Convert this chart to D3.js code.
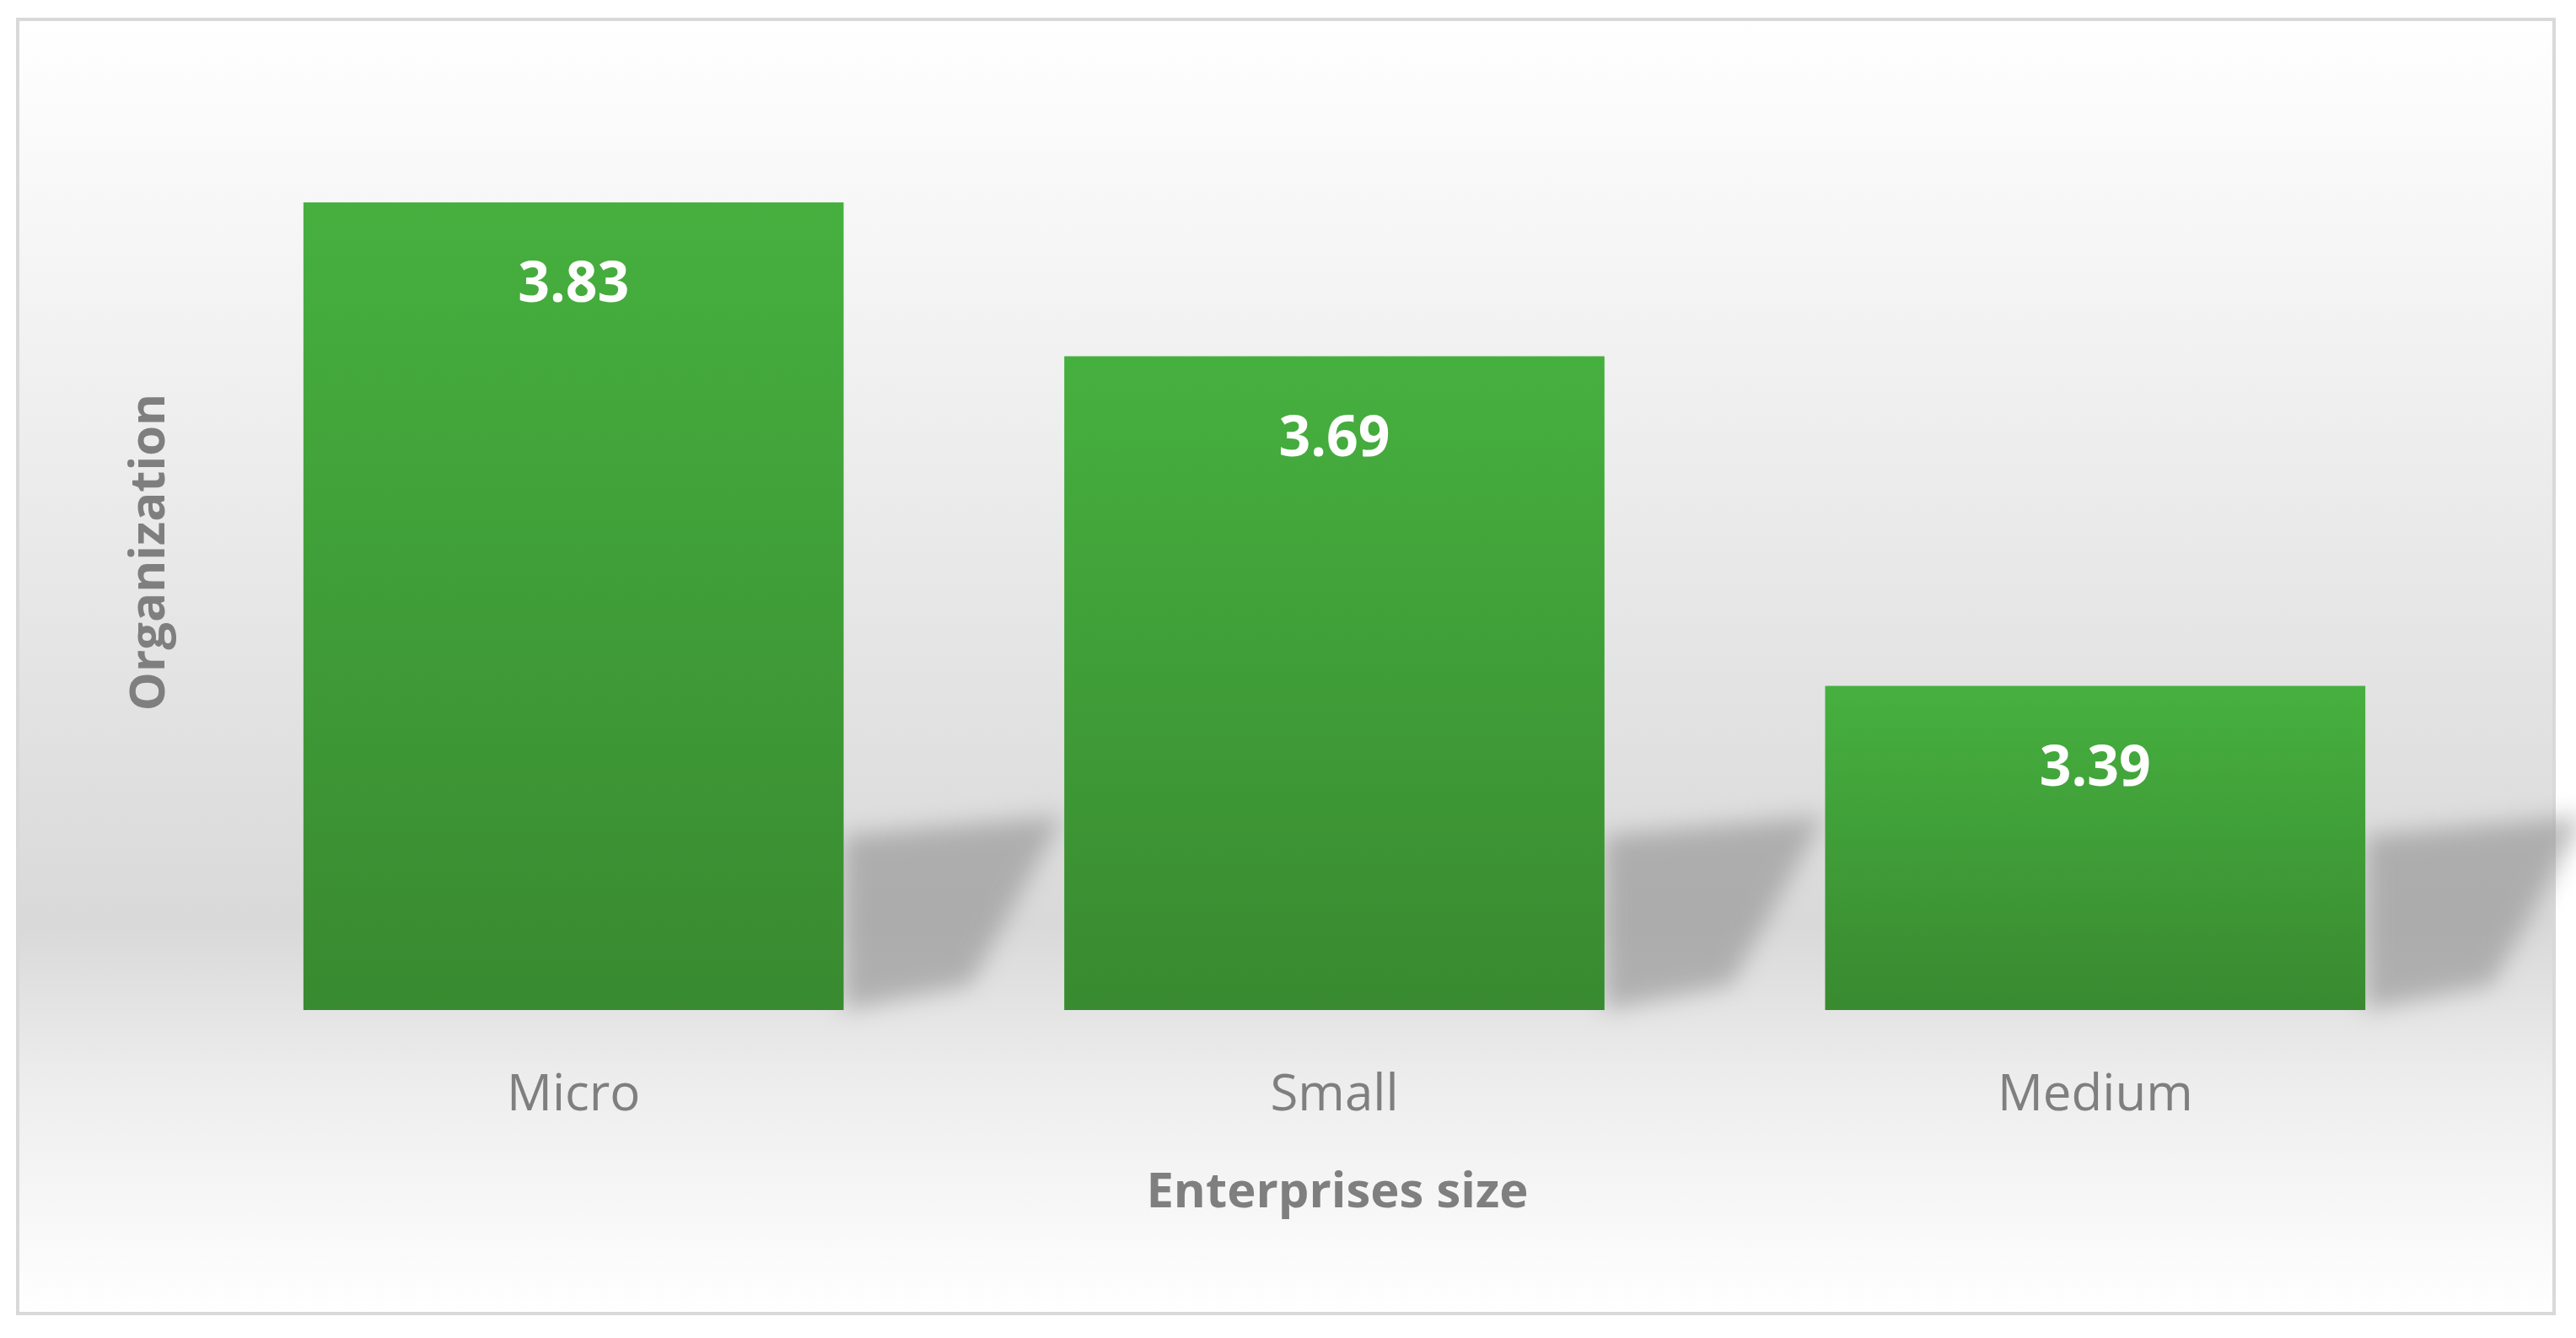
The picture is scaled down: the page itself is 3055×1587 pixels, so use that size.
<!DOCTYPE html>
<html><head><meta charset="utf-8">
<script src="https://cdn.jsdelivr.net/npm/d3@7"></script>
<style>body{margin:0;background:#fff}</style>
</head><body>
<script>
var width = 3055, height = 1587;
var categories = ["Micro", "Small", "Medium"];
var values = [3.83, 3.69, 3.39];
var font = "'Open Sans', 'Liberation Sans', sans-serif";

var svg = d3.select("body").append("svg").attr("width", width).attr("height", height);
var defs = svg.append("defs");

var bg = defs.append("linearGradient").attr("id", "bg").attr("x1", 0).attr("x2", 0).attr("y1", 0).attr("y2", 1);
bg.append("stop").attr("offset", "0%").attr("stop-color", "#ffffff");
bg.append("stop").attr("offset", "15%").attr("stop-color", "#f7f7f7");
bg.append("stop").attr("offset", "70%").attr("stop-color", "#d9d9d9");
bg.append("stop").attr("offset", "82%").attr("stop-color", "#ededed");
bg.append("stop").attr("offset", "100%").attr("stop-color", "#ffffff");

var bar = defs.append("linearGradient").attr("id", "bar").attr("x1", 0).attr("x2", 0).attr("y1", 0).attr("y2", 1);
bar.append("stop").attr("offset", "0%").attr("stop-color", "#46b03f");
bar.append("stop").attr("offset", "100%").attr("stop-color", "#398a30");

defs.append("filter").attr("id", "blur").attr("x", "-20%").attr("y", "-50%").attr("width", "140%").attr("height", "200%")
  .append("feGaussianBlur").attr("stdDeviation", 14);

svg.append("rect").attr("x", 21).attr("y", 23).attr("width", 3008).attr("height", 1535)
  .attr("fill", "url(#bg)").attr("stroke", "#d9d9d9").attr("stroke-width", 4);

var x = d3.scaleBand().domain(categories).range([229, 2936]).paddingInner(0.29).paddingOuter(0.145);
var y = d3.scaleLinear().domain([3.095, 3.85]).range([1198, 214]);

// shadows
svg.selectAll("path.shadow").data(categories).enter().append("path")
  .attr("fill", "#8f8f8f").attr("opacity", 0.6).attr("filter", "url(#blur)")
  .attr("d", function(d, i) {
    var x1 = x(d) + x.bandwidth(), yb = 1198;
    var h = Math.min(1198 - y(values[i]), 230);
    return "M" + x1 + "," + yb + "L" + x1 + "," + (yb - h * 0.9) + "L" + (x1 + 260) + "," + (yb - h) +
      "L" + (x1 + 150) + "," + (yb - 30) + "Z";
  });

svg.selectAll("rect.bar").data(categories).enter().append("rect")
  .attr("x", function(d) { return x(d); })
  .attr("y", function(d, i) { return y(values[i]); })
  .attr("width", x.bandwidth())
  .attr("height", function(d, i) { return 1198 - y(values[i]); })
  .attr("fill", "url(#bar)");

svg.selectAll("text.val").data(categories).enter().append("text")
  .attr("x", function(d) { return x(d) + x.bandwidth() / 2; })
  .attr("y", function(d, i) { return y(values[i]) + 118; })
  .attr("text-anchor", "middle").attr("font-family", font).attr("font-weight", "bold")
  .attr("font-size", 66).attr("fill", "#fff")
  .text(function(d, i) { return values[i].toFixed(2); });

svg.selectAll("text.cat").data(categories).enter().append("text")
  .attr("x", function(d) { return x(d) + x.bandwidth() / 2; })
  .attr("y", 1317)
  .attr("text-anchor", "middle").attr("font-family", font)
  .attr("font-size", 60).attr("fill", "#7f7f7f")
  .text(function(d) { return d; });

svg.append("text").attr("x", 1586).attr("y", 1432).attr("text-anchor", "middle")
  .attr("font-family", font).attr("font-weight", "bold").attr("font-size", 58).attr("fill", "#7f7f7f")
  .text("Enterprises size");

svg.append("text").attr("transform", "translate(195,655) rotate(-90)").attr("text-anchor", "middle")
  .attr("font-family", font).attr("font-weight", "bold").attr("font-size", 58).attr("fill", "#7f7f7f")
  .text("Organization");
</script>
</body></html>
